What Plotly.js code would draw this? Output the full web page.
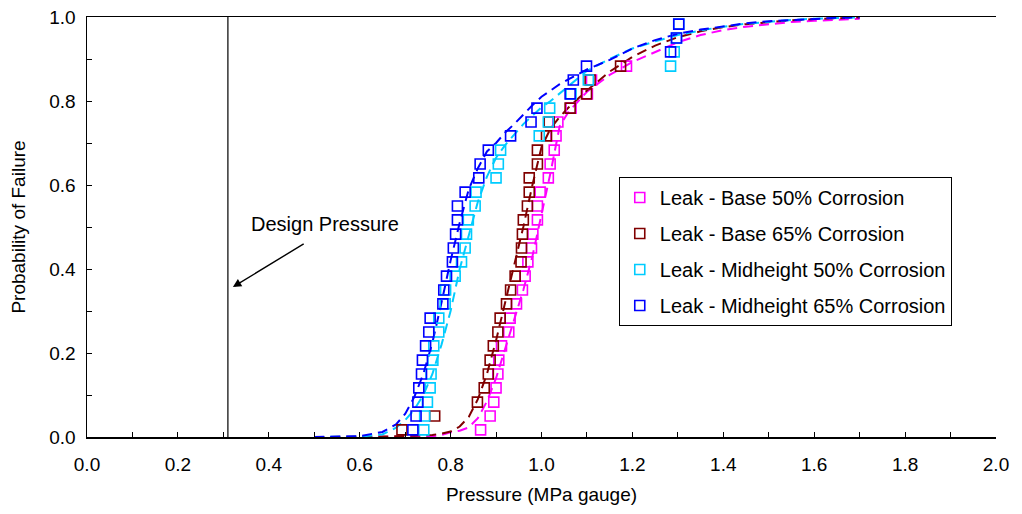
<!DOCTYPE html>
<html>
<head>
<meta charset="utf-8">
<script src="https://cdn.plot.ly/plotly-3.0.1.min.js"></script>
<style>html,body{margin:0;padding:0;background:#fff;}#chart{width:1022px;height:514px;}</style>
</head>
<body>
<div id="chart"></div>
<script>
// ---- Empirical points (pressure, MPa gauge) ----
const base50X = [0.866,0.887,0.895,0.900,0.904,0.906,0.912,0.928,0.931,0.945,0.958,0.964,0.970,0.978,0.981,0.991,0.991,0.997,1.015,1.019,1.028,1.032,1.036,1.065,1.101,1.110,1.187];
const base50Y = [0.017,0.050,0.083,0.117,0.150,0.183,0.217,0.250,0.283,0.317,0.350,0.383,0.417,0.450,0.483,0.517,0.550,0.583,0.617,0.650,0.683,0.717,0.750,0.783,0.817,0.850,0.883];

const base65X = [0.693,0.765,0.859,0.874,0.883,0.887,0.894,0.904,0.909,0.923,0.932,0.942,0.955,0.956,0.958,0.960,0.969,0.973,0.973,0.991,0.991,1.011,1.017,1.063,1.099,1.107,1.174];
const base65Y = [0.017,0.050,0.083,0.117,0.150,0.183,0.217,0.250,0.283,0.317,0.350,0.383,0.417,0.450,0.483,0.517,0.550,0.583,0.617,0.650,0.683,0.717,0.750,0.783,0.817,0.850,0.883];

const mid50X = [0.741,0.743,0.749,0.755,0.757,0.761,0.763,0.774,0.774,0.788,0.789,0.810,0.824,0.832,0.835,0.839,0.854,0.856,0.900,0.905,0.910,0.995,1.015,1.018,1.065,1.103,1.284,1.292,1.297,1.302];
const mid50Y = [0.017,0.050,0.083,0.117,0.150,0.183,0.217,0.250,0.283,0.317,0.350,0.383,0.417,0.450,0.483,0.517,0.550,0.583,0.617,0.650,0.683,0.717,0.750,0.783,0.817,0.850,0.883,0.917,0.950,0.983];

const mid65X = [0.717,0.724,0.728,0.730,0.736,0.738,0.745,0.752,0.755,0.783,0.785,0.791,0.804,0.806,0.811,0.815,0.815,0.832,0.862,0.865,0.883,0.932,0.977,0.990,1.063,1.070,1.099,1.284,1.297,1.302];
const mid65Y = [0.017,0.050,0.083,0.117,0.150,0.183,0.217,0.250,0.283,0.317,0.350,0.383,0.417,0.450,0.483,0.517,0.550,0.583,0.617,0.650,0.683,0.717,0.750,0.783,0.817,0.850,0.883,0.917,0.950,0.983];

// ---- Fitted curves ----
const fitX = [0.50,0.60,0.65,0.68,0.70,0.72,0.74,0.76,0.78,0.80,0.82,0.84,0.86,0.88,0.90,0.92,0.94,0.96,0.98,1.00,1.02,1.04,1.06,1.10,1.15,1.20,1.25,1.30,1.35,1.40,1.45,1.50,1.55,1.60,1.65,1.70];
const fitBase50 = [0.000,0.000,0.000,0.000,0.001,0.001,0.002,0.002,0.005,0.011,0.015,0.023,0.045,0.085,0.140,0.210,0.280,0.350,0.430,0.530,0.630,0.740,0.775,0.822,0.862,0.893,0.917,0.940,0.957,0.969,0.977,0.983,0.988,0.991,0.994,0.996];
const fitBase65 = [0.000,0.000,0.001,0.002,0.002,0.003,0.004,0.005,0.008,0.013,0.025,0.048,0.090,0.150,0.230,0.320,0.410,0.500,0.600,0.690,0.735,0.762,0.785,0.825,0.870,0.905,0.932,0.952,0.966,0.976,0.983,0.988,0.992,0.995,0.997,0.999];
const fitMid50 = [0.000,0.001,0.006,0.022,0.040,0.065,0.100,0.150,0.220,0.300,0.400,0.480,0.560,0.620,0.665,0.695,0.720,0.745,0.765,0.785,0.800,0.818,0.835,0.872,0.900,0.925,0.942,0.957,0.968,0.977,0.984,0.989,0.993,0.996,0.998,0.999];
const fitMid65 = [0.000,0.002,0.012,0.030,0.055,0.095,0.150,0.225,0.320,0.420,0.510,0.590,0.640,0.680,0.700,0.725,0.745,0.768,0.790,0.810,0.826,0.840,0.852,0.875,0.898,0.925,0.945,0.960,0.970,0.978,0.985,0.990,0.993,0.996,0.998,0.999];

const seriesNames = ['Leak - Base 50% Corrosion','Leak - Base 65% Corrosion','Leak - Midheight 50% Corrosion','Leak - Midheight 65% Corrosion'];
const seriesColors = ['#FF00FF','#800000','#00CCFF','#0000FF'];

const designPressure = 0.31;

const pts = [[base50X,base50Y],[base65X,base65Y],[mid50X,mid50Y],[mid65X,mid65Y]];
const fits = [fitBase50,fitBase65,fitMid50,fitMid65];

const traces = [];
for (let i = 0; i < 4; i++) {
  traces.push({
    x: fitX, y: fits[i], type: 'scatter', mode: 'lines', showlegend: false,
    line: {color: seriesColors[i], width: 2, dash: '10px,6px'}, hoverinfo: 'skip'
  });
}
for (let i = 0; i < 4; i++) {
  traces.push({
    x: pts[i][0], y: pts[i][1], type: 'scatter', mode: 'markers', name: seriesNames[i],
    legendgroup: 'g' + i,
    marker: {symbol: 'square-open', size: 10, color: seriesColors[i], line: {width: 1.6, color: seriesColors[i]}}
  });
}

const fontFam = 'Liberation Sans, Arial, sans-serif';
const layout = {
  width: 1022, height: 514,
  margin: {l: 87, r: 26, t: 17, b: 77},
  paper_bgcolor: '#fff', plot_bgcolor: '#fff',
  font: {family: fontFam, size: 19, color: '#000'},
  showlegend: true,
  legend: {
    x: 0.585, y: 0.619, xanchor: 'left', yanchor: 'top',
    bordercolor: '#000', borderwidth: 1, bgcolor: '#fff',
    font: {family: fontFam, size: 20, color: '#000'},
    tracegroupgap: 7
  },
  xaxis: {
    range: [0, 2.0], dtick: 0.2, tick0: 0, tickformat: '.1f',
    ticks: 'inside', ticklen: 5, tickcolor: '#000', tickwidth: 1,
    minor: {dtick: 0.1, ticks: 'inside', ticklen: 5, tickcolor: '#000'},
    showline: true, linecolor: '#000', linewidth: 1.5, mirror: true,
    showgrid: false, zeroline: false,
    tickfont: {size: 19}, ticklabelstandoff: 10,
    title: {text: 'Pressure (MPa gauge)', font: {size: 19}, standoff: 13}
  },
  yaxis: {
    range: [0, 1.0], dtick: 0.2, tick0: 0, tickformat: '.1f',
    ticks: 'inside', ticklen: 5, tickcolor: '#000', tickwidth: 1,
    minor: {dtick: 0.1, ticks: 'inside', ticklen: 5, tickcolor: '#000'},
    showline: true, linecolor: '#000', linewidth: 1.5,
    showgrid: false, zeroline: false,
    tickfont: {size: 19}, ticklabelstandoff: 6,
    title: {text: 'Probability of Failure', font: {size: 19}, standoff: 18}
  },
  shapes: [
    {type: 'line', xref: 'x', yref: 'paper', x0: designPressure, x1: designPressure, y0: 0, y1: 1,
     line: {color: '#000', width: 1.2}}
  ],
  annotations: [
    {x: 0.321, y: 0.357, xref: 'x', yref: 'y', ax: 0.48, ay: 0.462, axref: 'x', ayref: 'y',
     showarrow: true, arrowhead: 2, arrowsize: 1.2, arrowwidth: 1.4, arrowcolor: '#000', text: ''},
    {x: 0.524, y: 0.507, xref: 'x', yref: 'y', showarrow: false, text: 'Design Pressure',
     font: {family: fontFam, size: 20, color: '#000'}}
  ]
};

Plotly.newPlot('chart', traces, layout, {staticPlot: true});
</script>
</body>
</html>
